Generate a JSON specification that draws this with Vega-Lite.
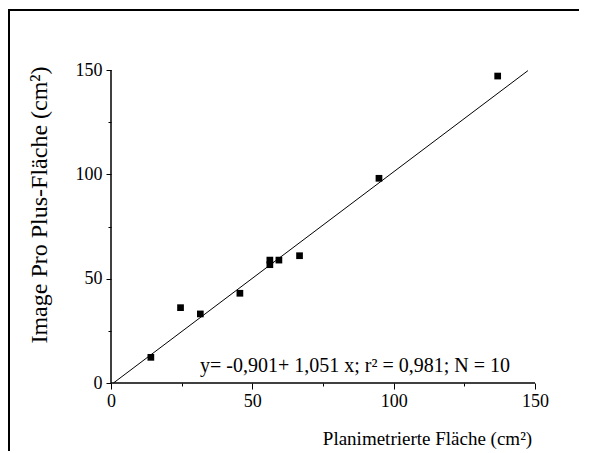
{
  "$schema": "https://vega.github.io/schema/vega-lite/v6.json",
  "width": 610,
  "height": 455,
  "autosize": {"type": "none"},
  "padding": {"left": 9, "top": 10, "right": -40, "bottom": -14},
  "background": "white",
  "config": {
    "view": {"stroke": "black", "strokeWidth": 2},
    "font": "Liberation Serif"
  },
  "data": {"values": [{}]},
  "datasets": {
    "points": [
      {"planimetrie": 14.1, "imagepro": 12.3},
      {"planimetrie": 24.6, "imagepro": 36.1},
      {"planimetrie": 31.6, "imagepro": 33.1},
      {"planimetrie": 45.6, "imagepro": 43.0},
      {"planimetrie": 56.2, "imagepro": 58.9},
      {"planimetrie": 56.2, "imagepro": 56.7},
      {"planimetrie": 59.4, "imagepro": 58.9},
      {"planimetrie": 66.7, "imagepro": 61.0},
      {"planimetrie": 94.8, "imagepro": 98.1},
      {"planimetrie": 136.8, "imagepro": 147.1}
    ],
    "fit": [
      {"planimetrie": 0.86, "imagepro": 0},
      {"planimetrie": 147.5, "imagepro": 149.7}
    ]
  },
  "encoding": {
    "x": {
      "type": "quantitative",
      "scale": {"domain": [-36.085, 179.717], "nice": false, "zero": false},
      "axis": {
        "values": [0, 25, 50, 75, 100, 125, 150],
        "domain": false,
        "grid": false,
        "offset": -82,
        "labelExpr": "datum.value % 50 === 0 ? datum.label : ''",
        "tickSize": {"condition": {"test": "datum.value % 50 === 0", "value": 6}, "value": 3},
        "tickColor": "black",
        "tickWidth": 1,
        "labelFontSize": 18,
        "labelColor": "black",
        "labelPadding": 3,
        "labelOverlap": false,
        "labelFlush": false,
        "title": "Planimetrierte Fläche (cm²)",
        "titleFontSize": 19,
        "titleFontWeight": "normal",
        "titleColor": "black",
        "titleX": 418,
        "titleY": 55,
        "titleBaseline": "middle"
      }
    },
    "y": {
      "type": "quantitative",
      "scale": {"domain": [-39.297, 178.754], "nice": false, "zero": false},
      "axis": {
        "values": [0, 25, 50, 75, 100, 125, 150],
        "domain": false,
        "grid": false,
        "offset": -102,
        "labelExpr": "datum.value % 50 === 0 ? datum.label : ''",
        "tickSize": {"condition": {"test": "datum.value % 50 === 0", "value": 5}, "value": 3},
        "tickColor": "black",
        "tickWidth": 1,
        "labelFontSize": 18,
        "labelColor": "black",
        "labelPadding": 4,
        "labelOverlap": false,
        "labelFlush": false,
        "title": "Image Pro Plus-Fläche (cm²)",
        "titleFontSize": 24,
        "titleFontWeight": "normal",
        "titleColor": "black",
        "titleX": -72,
        "titleY": 194.5,
        "titleBaseline": "middle"
      }
    }
  },
  "layer": [
    {
      "data": {"name": "points"},
      "mark": {"type": "point", "shape": "square", "filled": true, "color": "black", "opacity": 1, "size": 45},
      "encoding": {
        "x": {"field": "planimetrie", "type": "quantitative"},
        "y": {"field": "imagepro", "type": "quantitative"}
      }
    },
    {
      "data": {"name": "fit"},
      "mark": {"type": "line", "color": "black", "strokeWidth": 1},
      "encoding": {
        "x": {"field": "planimetrie", "type": "quantitative"},
        "y": {"field": "imagepro", "type": "quantitative"}
      }
    },
    {
      "mark": {"type": "rule", "color": "black", "strokeWidth": 1.5},
      "encoding": {
        "x": {"datum": 0, "type": "quantitative"},
        "x2": {"datum": 150},
        "y": {"datum": 0, "type": "quantitative"}
      }
    },
    {
      "mark": {"type": "rule", "color": "black", "strokeWidth": 1.5},
      "encoding": {
        "x": {"datum": 0, "type": "quantitative"},
        "y": {"datum": 0, "type": "quantitative"},
        "y2": {"datum": 150}
      }
    },
    {
      "mark": {"type": "text", "align": "left", "baseline": "alphabetic", "fontSize": 20, "color": "black", "font": "Liberation Serif"},
      "encoding": {
        "x": {"datum": 31.5, "type": "quantitative"},
        "y": {"datum": 5.3, "type": "quantitative"},
        "text": {"value": "y= -0,901+ 1,051 x; r² = 0,981; N = 10"}
      }
    }
  ]
}
